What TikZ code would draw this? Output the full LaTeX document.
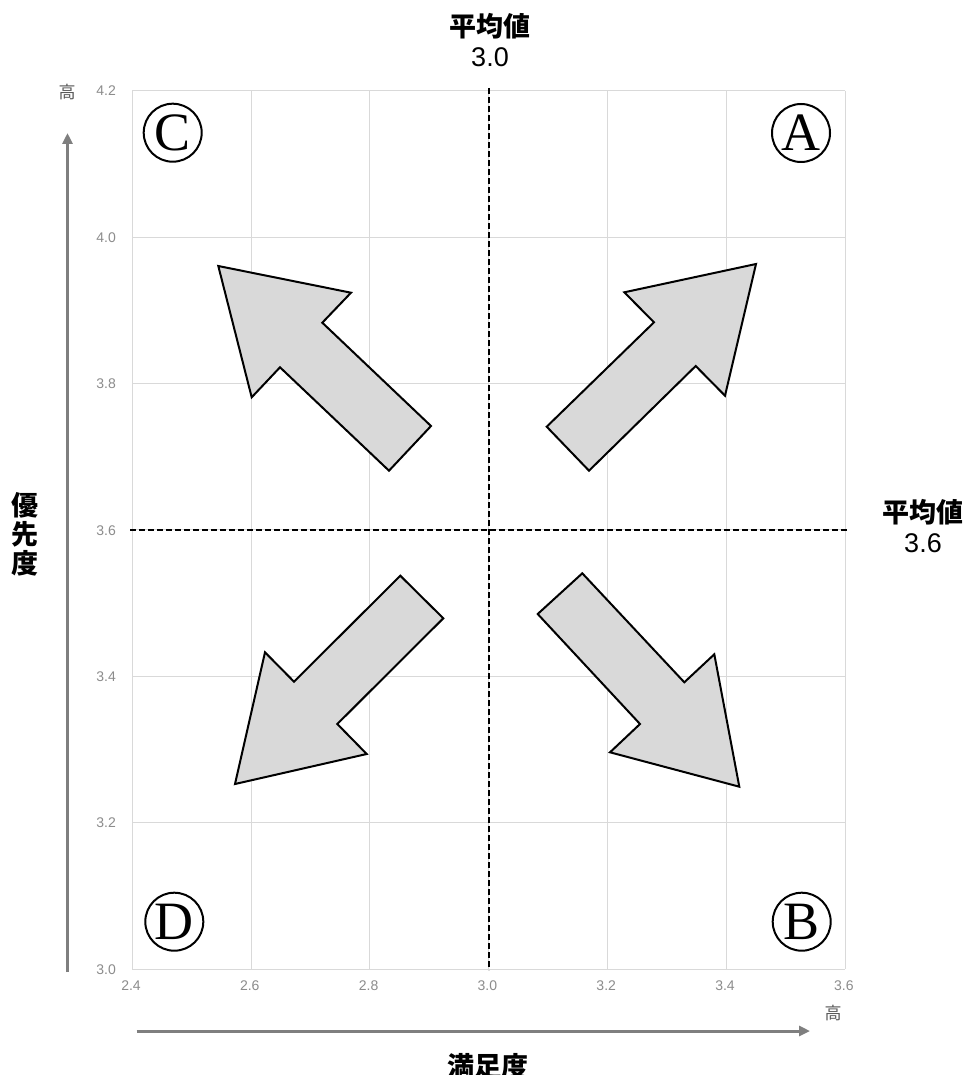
\documentclass[tikz,border=0pt]{standalone}
\usepackage{fontspec}
\setmainfont{Liberation Sans}
\newfontfamily\cjk{Noto Sans CJK JP}
\newfontfamily\serifl{Liberation Serif}
\usetikzlibrary{arrows.meta}
\definecolor{gridc}{HTML}{D9D9D9}
\definecolor{tickc}{HTML}{8C8C8C}
\definecolor{axisc}{HTML}{7F7F7F}
\definecolor{hic}{HTML}{595959}
\definecolor{arrowfill}{HTML}{D9D9D9}
\begin{document}
\begin{tikzpicture}[x=1pt,y=-1pt,
  gridline/.style={draw=gridc,line width=1pt},
  ticklab/.style={text=tickc,font=\fontsize{14}{14}\selectfont,inner sep=0pt},
  hilab/.style={text=hic,font=\cjk\fontsize{17}{17}\selectfont,inner sep=0pt},
  axarrow/.style={draw=axisc,line width=3pt,-{Triangle[length=11pt,width=10pt]}},
  meanline/.style={draw=black,line width=2pt,dash pattern=on 6pt off 3pt},
  bigarrow/.style={fill=arrowfill,draw=black,line width=2pt,line join=miter},
  circ/.style={circle,draw=black,line width=2pt,minimum size=58pt,inner sep=0pt,
    font=\serifl\fontsize{54}{54}\selectfont},
  biglab/.style={font=\cjk\bfseries\fontsize{27}{29}\selectfont,inner sep=0pt,align=center},
  bignum/.style={font=\fontsize{27}{29}\selectfont,inner sep=0pt}]
\useasboundingbox (0,0) rectangle (965,1075);
\fill[white] (0,0) rectangle (965,1075);

% grid
\foreach \i in {0,...,6}{
  \draw[gridline] ({132.3+\i*118.8},90.7) -- ({132.3+\i*118.8},969.1);
  \draw[gridline] (132.3,{90.7+\i*146.4}) -- (845,{90.7+\i*146.4});
}

% tick labels
\foreach \v [count=\k from 0] in {4.2,4.0,3.8,3.6,3.4,3.2,3.0}{
  \node[ticklab,anchor=east] (ytick\k) at (116,{91+\k*146.4}) {\v};
}
\foreach \v [count=\k from 0] in {2.4,2.6,2.8,3.0,3.2,3.4,3.6}{
  \node[ticklab] (xtick\k) at ({131+\k*118.8},986) {\v};
}

% axis arrows
\coordinate (yaxs) at (67.5,972);
\coordinate (yaxe) at (67.5,133);
\coordinate (xaxs) at (136.7,1031);
\coordinate (xaxe) at (810,1031);
\draw[axarrow] (yaxs) -- (yaxe);
\draw[axarrow] (xaxs) -- (xaxe);
\node[hilab] (hiy) at (67,92) {高};
\node[hilab] (hix) at (833,1013) {高};

% mean lines
\coordinate (vtop) at (489,88);
\coordinate (vbot) at (489,970);
\coordinate (hl) at (130,529.5);
\coordinate (hr) at (848,529.5);
\draw[meanline] (vtop) -- (vbot);
\draw[meanline] (hl) -- (hr);

% labels
\node[biglab] (mtop) at (490,26) {平均値};
\node[bignum] (mtopv) at (490,57) {3.0};
\node[biglab] (mright) at (923,512) {平均値};
\node[bignum] (mrightv) at (923,543) {3.6};
\node[biglab] (ylab) at (25,534) {優\\先\\度};
\node[biglab] (xlab) at (488,1066) {満足度};

% big arrows
\filldraw[bigarrow] (218.3,266) -- (351,292.7) -- (322.3,322.7) -- (431,426) -- (389,470.7) -- (280,367.3) -- (251.7,397.3) -- cycle;
\filldraw[bigarrow] (756,264) -- (624.3,292.3) -- (654,322.3) -- (546.7,426.7) -- (589,470.7) -- (695.7,366) -- (725,395.7) -- cycle;
\filldraw[bigarrow] (400.3,575.7) -- (443.3,618.3) -- (337.3,724) -- (366.7,754) -- (235,784) -- (265,652.3) -- (294,681.7) -- cycle;
\filldraw[bigarrow] (582.3,573.3) -- (537.7,614) -- (640,724) -- (610,752.3) -- (739.3,786.7) -- (714.3,654.3) -- (684.3,682.3) -- cycle;

% circled letters
\node[circ] (cA) at (801,133) {A};
\node[circ] (cB) at (801.7,921.7) {B};
\node[circ] (cC) at (172.7,132.7) {C};
\node[circ] (cD) at (174.3,921.7) {D};
\end{tikzpicture}
\end{document}
